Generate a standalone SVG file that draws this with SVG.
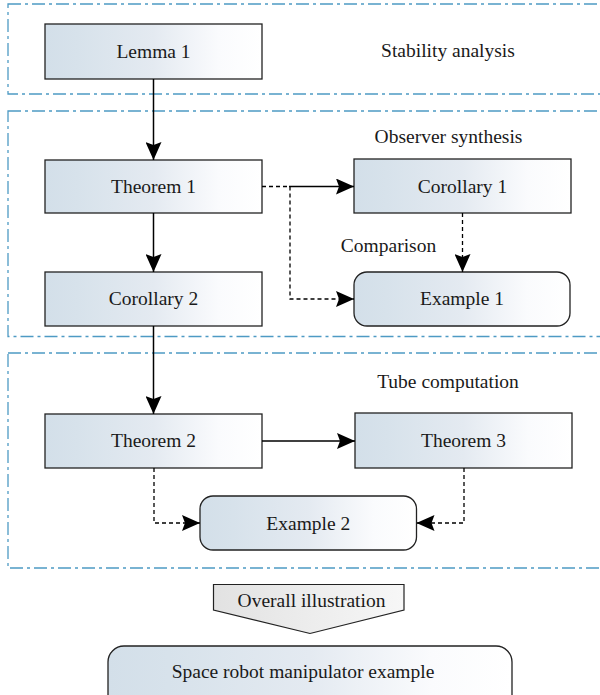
<svg xmlns="http://www.w3.org/2000/svg" width="600" height="695" viewBox="0 0 600 695" font-family="Liberation Serif, Times New Roman, Times, serif">
<defs>
<linearGradient id="boxg" x1="0" y1="0" x2="1" y2="0">
<stop offset="0" stop-color="#d3dfe9"/>
<stop offset="0.15" stop-color="#d7e2eb"/>
<stop offset="0.5" stop-color="#e4eaf1"/>
<stop offset="0.8" stop-color="#fafbfd"/>
<stop offset="1" stop-color="#ffffff"/>
</linearGradient>
<linearGradient id="greyg" x1="0" y1="0" x2="1" y2="0">
<stop offset="0" stop-color="#e2e2e2"/>
<stop offset="1" stop-color="#f7f7f7"/>
</linearGradient>
<marker id="ah" markerUnits="userSpaceOnUse" markerWidth="18" markerHeight="16" viewBox="0 0 18 16" refX="18" refY="8" orient="auto">
<path d="M0,0 L18,8 L0,16 L3,8 Z" fill="#000"/>
</marker>
<style>
.panel{fill:none;stroke:#4e9ac4;stroke-width:1.3;stroke-dasharray:13 4 3 4}
.box{fill:url(#boxg);stroke:#222;stroke-width:1.3}
.t{font-family:'Liberation Serif',serif;font-size:19.5px;fill:#1a1a1a;text-anchor:middle}
.solid{fill:none;stroke:#000;stroke-width:1.5}
.dot{fill:none;stroke:#000;stroke-width:1.3;stroke-dasharray:4 3}
</style>
</defs>
<g id="panels">
<rect class="panel" x="8" y="4" width="620" height="90"/>
<rect class="panel" x="8" y="111" width="620" height="225.5"/>
<rect class="panel" x="8" y="353" width="620" height="215"/>
</g>
<g id="labels">
<text class="t" x="448" y="57">Stability analysis</text>
<text class="t" x="448.5" y="143">Observer synthesis</text>
<text class="t" x="388.5" y="252">Comparison</text>
<text class="t" x="448" y="388">Tube computation</text>
</g>
<g id="lemma1"><rect class="box" x="45" y="24" width="217" height="55"/><text class="t" x="153.5" y="57.5">Lemma 1</text></g>
<g id="theorem1"><rect class="box" x="45" y="160" width="217" height="53"/><text class="t" x="153.5" y="192.5">Theorem 1</text></g>
<g id="corollary1"><rect class="box" x="354" y="159" width="217" height="54"/><text class="t" x="462.5" y="192.5">Corollary 1</text></g>
<g id="corollary2"><rect class="box" x="45" y="272" width="217" height="54"/><text class="t" x="153.5" y="305">Corollary 2</text></g>
<g id="example1"><rect class="box" x="354" y="272" width="216" height="54" rx="13"/><text class="t" x="462" y="305">Example 1</text></g>
<g id="theorem2"><rect class="box" x="45" y="414" width="217" height="54"/><text class="t" x="153.5" y="447">Theorem 2</text></g>
<g id="theorem3"><rect class="box" x="355" y="413" width="217" height="55"/><text class="t" x="463.5" y="447">Theorem 3</text></g>
<g id="example2"><rect class="box" x="200" y="496" width="216.5" height="54" rx="13"/><text class="t" x="308.3" y="529.5">Example 2</text></g>
<g id="overall"><path d="M213.5,584.5 H404 V610 L310,633.5 L213.5,610 Z" fill="url(#greyg)" stroke="#222" stroke-width="1.2"/><text class="t" x="311.5" y="606.5">Overall illustration</text></g>
<g id="spacerobot"><rect class="box" x="108" y="646" width="404" height="70" rx="16"/><text class="t" x="303" y="677.5">Space robot manipulator example</text></g>
<g id="connectors">
<line class="solid" x1="153.5" y1="79" x2="153.5" y2="160" marker-end="url(#ah)"/>
<line class="solid" x1="153.5" y1="213" x2="153.5" y2="272" marker-end="url(#ah)"/>
<line class="solid" x1="153.5" y1="326" x2="153.5" y2="414" marker-end="url(#ah)"/>
<path class="dot" d="M262,186.5 H290 V299 H354" marker-end="url(#ah)"/>
<line class="solid" x1="289" y1="186.5" x2="354" y2="186.5" marker-end="url(#ah)"/>
<line class="dot" x1="462.5" y1="213" x2="462.5" y2="272" marker-end="url(#ah)"/>
<line class="solid" x1="262" y1="441" x2="355" y2="441" marker-end="url(#ah)"/>
<path class="dot" d="M154,468 V523 H200" marker-end="url(#ah)"/>
<path class="dot" d="M464,468 V523 H416.5" marker-end="url(#ah)"/>
</g>
</svg>
